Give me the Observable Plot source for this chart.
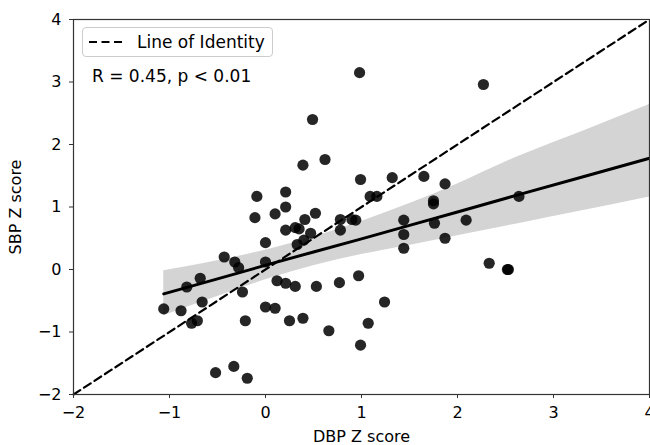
<!DOCTYPE html>
<html><head><meta charset="utf-8">
<script src="https://cdn.jsdelivr.net/npm/d3@7"></script>
<script src="https://cdn.jsdelivr.net/npm/@observablehq/plot@0.6"></script>
<style>
body{margin:0;background:#fff;}
#wrap{position:relative;width:650px;height:445px;font-family:"DejaVu Sans",sans-serif;}
#legend{position:absolute;left:82px;top:27px;width:189px;height:28px;border:1px solid #cccccc;border-radius:4px;background:rgba(255,255,255,0.85);box-sizing:content-box;}
#legend svg{position:absolute;left:6px;top:8px;}
#legend span{position:absolute;left:54px;top:4px;font-size:17px;line-height:20px;color:#000;white-space:nowrap;}
#stats{position:absolute;left:92px;top:66px;font-size:17px;line-height:20px;color:#000;white-space:nowrap;}
</style>
</head><body><div id="wrap"></div>
<script>
const dbp = [-1.06,-0.88,-0.82,-0.77,-0.71,-0.68,-0.66,-0.52,-0.43,-0.33,-0.32,-0.28,-0.24,-0.21,-0.19,-0.09,-0.11,0.0,0.0,0.0,0.1,0.1,0.21,0.21,0.12,0.21,0.31,0.25,0.39,0.53,0.21,0.31,0.35,0.41,0.52,0.47,0.40,0.33,0.39,0.62,0.99,1.32,1.09,1.16,0.78,0.90,0.94,0.78,1.44,1.44,1.44,0.49,0.77,0.97,0.66,1.24,1.07,0.99,1.87,1.76,2.09,2.33,2.52,2.53,1.65,1.87,1.75,1.75,2.64,0.98,2.27];
const sbp = [-0.63,-0.66,-0.28,-0.86,-0.82,-0.14,-0.52,-1.65,0.20,-1.55,0.12,0.03,-0.36,-0.82,-1.74,1.17,0.83,0.43,0.12,-0.60,-0.62,0.89,1.24,1.00,-0.18,-0.22,-0.27,-0.82,-0.78,-0.27,0.63,0.67,0.65,0.80,0.90,0.58,0.47,0.40,1.67,1.76,1.44,1.47,1.17,1.17,0.80,0.80,0.79,0.63,0.79,0.56,0.34,2.40,-0.21,-0.10,-0.98,-0.52,-0.86,-1.21,0.50,0.74,0.79,0.10,0.00,0.00,1.49,1.37,1.10,1.05,1.17,3.15,2.96];
// regression fit and its confidence band
const fitX   = [-1.06, -0.5, 0.05, 0.5, 1.0, 1.51, 2.0, 2.62, 3.3, 4.0];
const fitY   = [-0.39, -0.15, 0.09, 0.28, 0.49, 0.71, 0.92, 1.19, 1.48, 1.78];
const bandHi = [-0.02, 0.14, 0.33, 0.52, 0.77, 1.06, 1.37, 1.80, 2.21, 2.64];
const bandLo = [-0.74, -0.43, -0.14, 0.06, 0.24, 0.39, 0.54, 0.73, 0.94, 1.16];
const xTicks = [-2,-1,0,1,2,3,4];
const yTicks = [-2,-1,0,1,2,3,4];
const identityX = [-2, 4];
const xLabel = "DBP Z score";
const yLabel = "SBP Z score";
const legendLabel = "Line of Identity";
const statsLabel = "R = 0.45, p < 0.01";

const pts = dbp.map((x, i) => ({x, y: sbp[i]}));
const fit = fitX.map((x, i) => ({x, y: fitY[i], lo: bandLo[i], hi: bandHi[i]}));
const identity = identityX.map(v => ({x: v, y: v}));

const chart = Plot.plot({
  width: 650, height: 445,
  marginLeft: 73, marginRight: 1, marginTop: 19, marginBottom: 51,
  style: {fontFamily: "DejaVu Sans", fontSize: "16px", color: "#000", background: "#fff"},
  x: {domain: [-2, 4]},
  y: {domain: [-2, 4]},
  marks: [
    Plot.areaY(fit, {x: "x", y1: "lo", y2: "hi", fill: "#d4d4d4", curve: "monotone-x"}),
    Plot.dot(pts, {x: "x", y: "y", r: 5.6, fill: "#000", fillOpacity: 0.85, stroke: "none"}),
    Plot.line(fit, {x: "x", y: "y", stroke: "#000", strokeWidth: 3}),
    Plot.line(identity, {x: "x", y: "y", stroke: "#000", strokeWidth: 2.2, strokeDasharray: "8,4.5"}),
    Plot.frame({stroke: "#333", strokeWidth: 1.2}),
    Plot.axisX({ticks: xTicks, tickFormat: "d", tickSize: 4, tickPadding: 8, stroke: "#333", label: xLabel, labelAnchor: "center", labelArrow: "none", labelOffset: 47, fontSize: 16}),
    Plot.axisY({ticks: yTicks, tickFormat: "d", tickSize: 4, tickPadding: 8, stroke: "#333", label: yLabel, labelAnchor: "center", labelArrow: "none", labelOffset: 64, fontSize: 16})
  ]
});
const wrap = document.getElementById("wrap");
wrap.appendChild(chart);
const leg = document.createElement("div");
leg.id = "legend";
leg.innerHTML = '<svg width="40" height="12"><line x1="0" y1="6" x2="36" y2="6" stroke="#000" stroke-width="2.2" stroke-dasharray="8,4.5"/></svg><span></span>';
leg.querySelector("span").textContent = legendLabel;
wrap.appendChild(leg);
const st = document.createElement("div");
st.id = "stats";
st.textContent = statsLabel;
wrap.appendChild(st);
</script>
</body></html>
